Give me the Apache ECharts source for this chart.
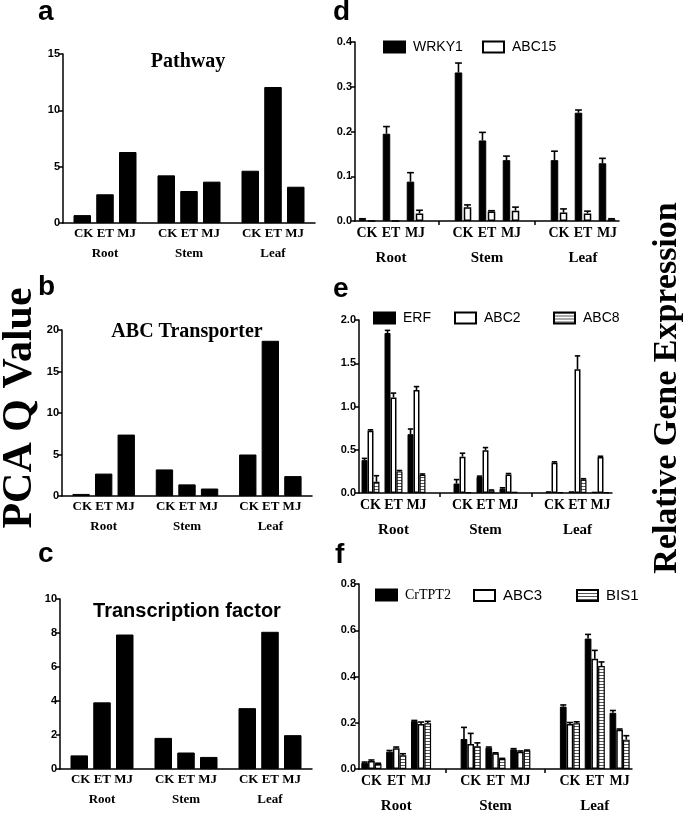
<!DOCTYPE html>
<html><head><meta charset="utf-8">
<script src="https://cdn.jsdelivr.net/npm/echarts@6/dist/echarts.min.js"></script>
<style>html,body{margin:0;padding:0;background:#fff}#c{width:685px;height:815px}</style>
</head><body><div id="c"></div>
<script>
// ---------- data ----------
const tissues = ['Root', 'Stem', 'Leaf'];
const treatments = ['CK', 'ET', 'MJ'];
// order of every value array: Root CK, ET, MJ, Stem CK, ET, MJ, Leaf CK, ET, MJ
const pathway        = [0.7, 2.55, 6.3, 4.23, 2.84, 3.67, 4.64, 12.07, 3.22];
const abcTransporter = [0.25, 2.7, 7.4, 3.2, 1.4, 0.9, 5.0, 18.7, 2.4];
const transcription  = [0.8, 3.92, 7.91, 1.83, 0.97, 0.71, 3.58, 8.07, 1.99];

const wrky1    = [0.004, 0.195, 0.088, 0.332, 0.18, 0.136, 0.136, 0.242, 0.129];
const wrky1Err = [0.001, 0.016, 0.02, 0.021, 0.018, 0.009, 0.02, 0.006, 0.011];
const abc15    = [0, 0, 0.017, 0.031, 0.021, 0.023, 0.019, 0.017, 0.004];
const abc15Err = [0, 0, 0.007, 0.005, 0.002, 0.008, 0.008, 0.005, 0.001];

const erf     = [0.38, 1.85, 0.68, 0.11, 0.185, 0.05, 0.02, 0.02, 0.015];
const erfErr  = [0.02, 0.03, 0.06, 0.045, 0.01, 0.01, 0, 0, 0];
const abc2    = [0.72, 1.105, 1.19, 0.42, 0.495, 0.215, 0.35, 1.43, 0.415];
const abc2Err = [0.01, 0.05, 0.04, 0.04, 0.03, 0.01, 0.01, 0.155, 0.01];
const abc8    = [0.13, 0.25, 0.21, 0.01, 0.03, 0.015, 0.01, 0.155, 0.01];
const abc8Err = [0.07, 0.01, 0.01, 0, 0.005, 0, 0, 0.01, 0];

const crtpt2    = [0.027, 0.075, 0.207, 0.13, 0.092, 0.085, 0.27, 0.564, 0.243];
const crtpt2Err = [0.003, 0.005, 0.003, 0.05, 0.003, 0.003, 0.007, 0.018, 0.01];
const abc3      = [0.035, 0.09, 0.195, 0.108, 0.068, 0.075, 0.195, 0.477, 0.17];
const abc3Err   = [0.004, 0.005, 0.008, 0.046, 0.002, 0.003, 0.006, 0.036, 0.003];
const bis1      = [0.022, 0.06, 0.198, 0.098, 0.043, 0.08, 0.198, 0.445, 0.127];
const bis1Err   = [0.003, 0.006, 0.008, 0.015, 0.003, 0.002, 0.006, 0.018, 0.017];

const ticksA = [0, 5, 10, 15];
const ticksB = [0, 5, 10, 15, 20];
const ticksC = [0, 2, 4, 6, 8, 10];
const ticksD = [0, 0.1, 0.2, 0.3, 0.4];
const ticksE = [0, 0.5, 1.0, 1.5, 2.0];
const ticksF = [0, 0.2, 0.4, 0.6, 0.8];

// ---------- helpers ----------
const SERIF = 'Liberation Serif', SANS = 'Liberation Sans';
const stripe = (function () {
  const c = document.createElement('canvas'); c.width = 4; c.height = 3;
  const g = c.getContext('2d');
  g.fillStyle = '#fff'; g.fillRect(0, 0, 4, 3);
  g.fillStyle = '#555'; g.fillRect(0, 0, 4, 1);
  return { image: c, repeat: 'repeat' };
})();
const styles = {
  black: { color: '#000', borderColor: '#000', borderWidth: 1 },
  white: { color: '#fff', borderColor: '#000', borderWidth: 1.5 },
  stripe: { color: stripe, borderColor: '#000', borderWidth: 1.2 }
};

const gridBoxes = [
  { left: 63, top: 54, width: 252, height: 169 },
  { left: 62, top: 330, width: 250, height: 166 },
  { left: 60, top: 599, width: 252, height: 170 },
  { left: 355, top: 42, width: 264, height: 179 },
  { left: 359, top: 320, width: 253, height: 173 },
  { left: 359, top: 584, width: 273, height: 185 }
];

function yAxis(gi, ticks, dec) {
  return {
    type: 'value', gridIndex: gi, min: ticks[0], max: ticks[ticks.length - 1],
    interval: ticks[1] - ticks[0], splitLine: { show: false },
    axisLine: { show: true, lineStyle: { color: '#000', width: 1.5 } },
    axisTick: { show: true, length: 4, lineStyle: { color: '#000', width: 1.5 } },
    axisLabel: { color: '#000', fontFamily: SANS, fontWeight: 'bold', fontSize: 11, margin: 3,
      formatter: v => dec ? v.toFixed(1) : String(v) }
  };
}
function xAxisPCA(gi) {
  return {
    type: 'category', gridIndex: gi, data: tissues,
    axisLine: { lineStyle: { color: '#000', width: 1.5 } }, axisTick: { show: false },
    axisLabel: { interval: 0, margin: 3, color: '#000',
      formatter: v => '{t|' + treatments.join(' ') + '}\n{g|' + v + '}',
      rich: { t: { fontFamily: SERIF, fontWeight: 'bold', fontSize: 13, lineHeight: 16, color: '#000' },
              g: { fontFamily: SERIF, fontWeight: 'bold', fontSize: 13, lineHeight: 23, color: '#000' } } }
  };
}
const slotCats = [];
tissues.forEach((t, j) => { treatments.forEach(tr => slotCats.push(t + ' ' + tr)); if (j < 2) slotCats.push('gap' + j); });
function xAxisGene(gi) {
  return {
    type: 'category', gridIndex: gi, data: slotCats,
    axisLine: { lineStyle: { color: '#000', width: 1.5 } },
    axisTick: { show: true, alignWithLabel: true, length: 4, interval: i => i % 4 === 3, lineStyle: { color: '#000', width: 1.5 } },
    axisLabel: { interval: 0, margin: 4, color: '#000',
      formatter: (v, idx) => {
        const j = Math.floor(idx / 4), i = idx % 4;
        if (i === 3) return '';
        return i === 1 ? '{t|' + treatments[i] + '}\n{g|' + tissues[j] + '}' : '{t|' + treatments[i] + '}';
      },
      rich: { t: { fontFamily: SERIF, fontWeight: 'bold', fontSize: 14, lineHeight: 16, color: '#000' },
              g: { fontFamily: SERIF, fontWeight: 'bold', fontSize: 15, lineHeight: 34, color: '#000' } } }
  };
}

const series = [];
function pcaPanel(gi, values) {
  treatments.forEach((tr, i) => {
    series.push({ type: 'bar', name: tr, xAxisIndex: gi, yAxisIndex: gi,
      barGap: '30%', barCategoryGap: '25%', itemStyle: styles.black,
      data: tissues.map((t, j) => values[j * 3 + i]) });
  });
}
function errRender(n, k, catGap, barGap) {
  return function (params, api) {
    const idx = api.value(0), v = api.value(1), e = api.value(2);
    if (!(e > 0)) return { type: 'group', children: [] };
    const band = api.size([1, 0])[0];
    const groupW = band * (1 - catGap);
    const bw = groupW / (n + (n - 1) * barGap);
    const base = api.coord([idx, v]);
    const top = api.coord([idx, v + e]);
    const x = base[0] - groupW / 2 + bw / 2 + k * bw * (1 + barGap);
    const cap = bw * 0.9;
    const st = { stroke: '#000', lineWidth: 1.6 };
    return { type: 'group', children: [
      { type: 'line', shape: { x1: x, y1: base[1], x2: x, y2: top[1] }, style: st },
      { type: 'line', shape: { x1: x - cap / 2, y1: top[1], x2: x + cap / 2, y2: top[1] }, style: st }
    ] };
  };
}
function genePanel(gi, catGap, barGap, list) {
  const n = list.length;
  list.forEach((s, k) => {
    const data = slotCats.map(() => '-');
    const errData = [];
    tissues.forEach((t, j) => treatments.forEach((tr, i) => {
      const slot = j * 4 + i;
      data[slot] = s.vals[j * 3 + i];
      errData.push([slot, s.vals[j * 3 + i], s.errs[j * 3 + i]]);
    }));
    series.push({ type: 'bar', name: s.name, xAxisIndex: gi, yAxisIndex: gi,
      barGap: (barGap * 100) + '%', barCategoryGap: (catGap * 100) + '%',
      itemStyle: styles[s.style], data });
    series.push({ type: 'custom', xAxisIndex: gi, yAxisIndex: gi, z: 3,
      renderItem: errRender(n, k, catGap, barGap), encode: { x: 0, y: 1 }, data: errData });
  });
}

pcaPanel(0, pathway);
pcaPanel(1, abcTransporter);
pcaPanel(2, transcription);
genePanel(3, 0.31, 0.2, [
  { name: 'WRKY1', vals: wrky1, errs: wrky1Err, style: 'black' },
  { name: 'ABC15', vals: abc15, errs: abc15Err, style: 'white' }]);
genePanel(4, 0.22, 0, [
  { name: 'ERF', vals: erf, errs: erfErr, style: 'black' },
  { name: 'ABC2', vals: abc2, errs: abc2Err, style: 'white' },
  { name: 'ABC8', vals: abc8, errs: abc8Err, style: 'stripe' }]);
genePanel(5, 0.19, 0, [
  { name: 'CrTPT2', vals: crtpt2, errs: crtpt2Err, style: 'black' },
  { name: 'ABC3', vals: abc3, errs: abc3Err, style: 'white' },
  { name: 'BIS1', vals: bis1, errs: bis1Err, style: 'stripe' }]);

function leg(name, left, cy, font, size) {
  return { data: [name], left: left, top: cy - 7, padding: 0, icon: 'rect', itemWidth: 21, itemHeight: 11,
    selectedMode: false, textStyle: { fontFamily: font, fontSize: size, color: '#000', padding: [0, 0, 0, 3] } };
}
function txt(s, x, y, font, size, weight, align, rot) {
  return { type: 'text', x: x, y: y, rotation: rot || 0, silent: true,
    style: { text: s, fontFamily: font, fontSize: size, fontWeight: weight, fill: '#000',
      align: align, textAlign: align, verticalAlign: 'middle', textVerticalAlign: 'middle' } };
}

const option = {
  animation: false,
  backgroundColor: '#fff',
  grid: gridBoxes.map(g => Object.assign({ containLabel: false, outerBoundsMode: 'none' }, g)),
  xAxis: [xAxisPCA(0), xAxisPCA(1), xAxisPCA(2), xAxisGene(3), xAxisGene(4), xAxisGene(5)],
  yAxis: [yAxis(0, ticksA, false), yAxis(1, ticksB, false), yAxis(2, ticksC, false),
          yAxis(3, ticksD, true), yAxis(4, ticksE, true), yAxis(5, ticksF, true)],
  legend: [
    leg('WRKY1', 383, 47, SANS, 14), leg('ABC15', 482, 47, SANS, 14),
    leg('ERF', 373, 318, SANS, 14), leg('ABC2', 454, 318, SANS, 14), leg('ABC8', 553, 318, SANS, 14),
    leg('CrTPT2', 375, 595, SERIF, 14), leg('ABC3', 473, 595, SANS, 15), leg('BIS1', 576, 595, SANS, 15)
  ],
  graphic: [
    txt('a', 38, 12, SANS, 28, 'bold', 'left'),
    txt('b', 38, 287, SANS, 28, 'bold', 'left'),
    txt('c', 38, 554, SANS, 28, 'bold', 'left'),
    txt('d', 333, 12, SANS, 28, 'bold', 'left'),
    txt('e', 333, 289, SANS, 28, 'bold', 'left'),
    txt('f', 335, 555, SANS, 28, 'bold', 'left'),
    txt('Pathway', 188, 62, SERIF, 20, 'bold', 'center'),
    txt('ABC Transporter', 187, 332, SERIF, 20, 'bold', 'center'),
    txt('Transcription factor', 187, 611, SANS, 20, 'bold', 'center'),
    txt('PCA Q Value', 20, 408, SERIF, 42, 'bold', 'center', Math.PI / 2),
    txt('Relative Gene Expression', 667, 388, SERIF, 34, 'bold', 'center', Math.PI / 2)
  ],
  series: series
};
const chart = echarts.init(document.getElementById('c'), null, { renderer: 'canvas' });
chart.setOption(option);
</script></body></html>
